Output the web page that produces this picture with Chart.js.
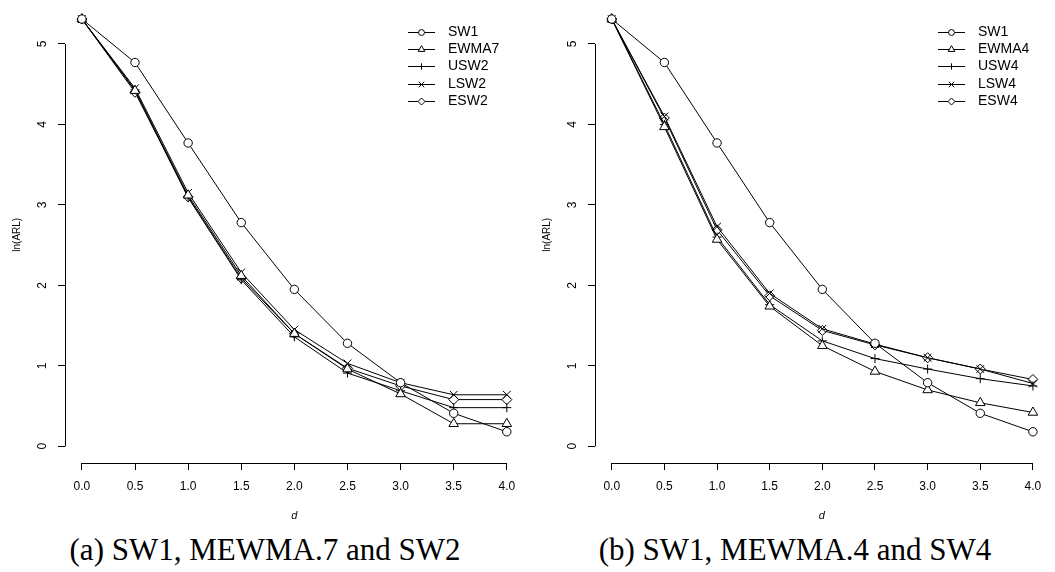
<!DOCTYPE html>
<html>
<head>
<meta charset="utf-8">
<script src="https://cdn.jsdelivr.net/npm/chart.js@4.4.1/dist/chart.umd.min.js"></script>
<style>
    html, body { margin: 0; padding: 0; background: #fff; }
    #wrap { position: relative; width: 1055px; height: 572px; overflow: hidden; }
    .panel { position: absolute; top: 0; }
    .caption {
        position: absolute; top: 534px; width: 530px; text-align: center;
        font-family: "Liberation Serif", "Times New Roman", serif;
        font-size: 31px; line-height: 31px; color: #000; white-space: nowrap;
    }
</style>
</head>
<body>
<div id="wrap">
    <canvas id="chartA" class="panel" style="left:0" width="530" height="530"></canvas>
    <canvas id="chartB" class="panel" style="left:530px" width="525" height="530"></canvas>
    <div class="caption" style="left:0">(a) SW1, MEWMA.7 and SW2</div>
    <div class="caption" style="left:530px">(b) SW1, MEWMA.4 and SW4</div>
</div>
<script>
// x values (shift size d) and axis ticks
const dValues = [0, 0.5, 1, 1.5, 2, 2.5, 3, 3.5, 4];
const xTickValues = [0, 0.5, 1, 1.5, 2, 2.5, 3, 3.5, 4];
const yTickValues = [0, 1, 2, 3, 4, 5];

// ln(ARL), shared reference curve
const sw1 = [5.31, 4.77, 3.77, 2.78, 1.95, 1.28, 0.79, 0.41, 0.18];

// panel (a)
const labelsA = ['SW1', 'EWMA7', 'USW2', 'LSW2', 'ESW2'];
const ewma7 = [5.31, 4.42, 3.12, 2.12, 1.40, 0.96, 0.65, 0.28, 0.28];
const usw2 = [5.31, 4.43, 3.09, 2.07, 1.36, 0.91, 0.69, 0.48, 0.48];
const lsw2 = [5.31, 4.45, 3.15, 2.16, 1.45, 1.03, 0.79, 0.64, 0.64];
const esw2 = [5.31, 4.40, 3.10, 2.09, 1.40, 0.97, 0.75, 0.58, 0.58];

// panel (b)
const labelsB = ['SW1', 'EWMA4', 'USW4', 'LSW4', 'ESW4'];
const ewma4 = [5.31, 3.97, 2.57, 1.74, 1.25, 0.93, 0.70, 0.54, 0.42];
const usw4 = [5.31, 4.00, 2.60, 1.76, 1.31, 1.09, 0.96, 0.84, 0.75];
const lsw4 = [5.31, 4.10, 2.73, 1.90, 1.46, 1.27, 1.10, 0.96, 0.78];
const esw4 = [5.31, 4.08, 2.69, 1.87, 1.44, 1.26, 1.10, 0.96, 0.83];

const markerStyles = ['circle', 'triangle', 'cross', 'crossRot', 'rectRot'];
const markerRadius = { circle: 4.2, triangle: 5.5, cross: 4.5, crossRot: 5.5, rectRot: 5 };

Chart.defaults.font.family = '"Liberation Sans", Arial, Helvetica, sans-serif';
Chart.defaults.color = '#000';

// R-style axes (line only from first to last tick), rotated y labels, legend
const rAxesPlugin = {
    id: 'rAxes',
    afterDraw(chart, args, opts) {
        const { ctx, chartArea, scales: { x, y } } = chart;
        ctx.save();
        ctx.strokeStyle = '#000';
        ctx.lineWidth = 1;
        ctx.beginPath();
        const xb = Math.round(chartArea.bottom) + 0.5;
        ctx.moveTo(x.getPixelForValue(xTickValues[0]), xb);
        ctx.lineTo(x.getPixelForValue(xTickValues[xTickValues.length - 1]), xb);
        const yl = Math.round(chartArea.left) + 0.5;
        ctx.moveTo(yl, y.getPixelForValue(yTickValues[0]));
        ctx.lineTo(yl, y.getPixelForValue(yTickValues[yTickValues.length - 1]));
        ctx.stroke();

        // y tick labels, read bottom to top like R
        ctx.fillStyle = '#000';
        ctx.font = '12px "Liberation Sans", Arial, sans-serif';
        ctx.textAlign = 'center';
        ctx.textBaseline = 'middle';
        yTickValues.forEach(v => {
            ctx.save();
            ctx.translate(chartArea.left - 22, y.getPixelForValue(v));
            ctx.rotate(-Math.PI / 2);
            ctx.fillText(String(v), 0, 0);
            ctx.restore();
        });

        // legend
        ctx.font = '14px "Liberation Sans", Arial, sans-serif';
        ctx.textAlign = 'left';
        chart.data.datasets.forEach((ds, i) => {
            const ly = Math.round(opts.top + i * opts.rowHeight) + 0.5;
            ctx.beginPath();
            ctx.moveTo(opts.lineStart, ly);
            ctx.lineTo(opts.lineEnd, ly);
            ctx.stroke();
            ctx.fillStyle = '#fff';
            Chart.helpers.drawPoint(ctx, {
                pointStyle: ds.pointStyle,
                radius: markerRadius[ds.pointStyle] * 0.7,
                rotation: 0,
                borderWidth: 1
            }, (opts.lineStart + opts.lineEnd) / 2, ly);
            ctx.fillStyle = '#000';
            ctx.fillText(ds.label, opts.textX, ly);
        });
        ctx.restore();
    }
};

function makeDataset(label, values, style) {
    return {
        label,
        data: dValues.map((d, i) => ({ x: d, y: values[i] })),
        borderColor: '#000',
        borderWidth: 1,
        pointStyle: style,
        pointRadius: markerRadius[style],
        pointBackgroundColor: '#fff',
        pointBorderColor: '#000',
        pointBorderWidth: 1,
        tension: 0,
        fill: false,
        clip: false
    };
}

function buildChart(canvasId, labels, series, xMax) {
    return new Chart(document.getElementById(canvasId), {
        type: 'line',
        data: {
            datasets: series.map((vals, i) => makeDataset(labels[i], vals, markerStyles[i]))
        },
        options: {
            responsive: false,
            animation: false,
            events: [],
            layout: { padding: { left: 0, right: canvasId === 'chartA' ? 4 : 0, top: 0, bottom: 0 } },
            plugins: {
                legend: { display: false },
                tooltip: { enabled: false },
                rAxes: { lineStart: 408, lineEnd: 435, textX: 448, top: 31.5, rowHeight: 17.4 }
            },
            scales: {
                x: {
                    type: 'linear',
                    min: -0.159,
                    max: xMax,
                    afterBuildTicks: s => { s.ticks = xTickValues.map(v => ({ value: v })); },
                    afterFit: s => { s.height = 67; s.paddingLeft = 0; s.paddingRight = 0; },
                    ticks: {
                        callback: v => v.toFixed(1),
                        font: { size: 12 },
                        color: '#000',
                        padding: 9,
                        maxRotation: 0,
                        autoSkip: false
                    },
                    grid: { drawOnChartArea: false, drawTicks: true, tickLength: 7, color: '#000', lineWidth: 1 },
                    border: { display: false },
                    title: {
                        display: true,
                        text: 'd',
                        font: { size: 11, style: 'italic' },
                        color: '#000',
                        padding: { top: 0, bottom: 7 }
                    }
                },
                y: {
                    type: 'linear',
                    min: -0.208,
                    max: 5.466,
                    afterBuildTicks: s => { s.ticks = yTickValues.map(v => ({ value: v })); },
                    afterFit: s => { s.width = 65; s.paddingTop = 0; s.paddingBottom = 0; },
                    ticks: { display: false },
                    grid: { drawOnChartArea: false, drawTicks: true, tickLength: 7, color: '#000', lineWidth: 1 },
                    border: { display: false },
                    title: {
                        display: true,
                        text: 'ln(ARL)',
                        font: { size: 10 },
                        color: '#000',
                        padding: { top: 11, bottom: 0 }
                    }
                }
            }
        },
        plugins: [rAxesPlugin]
    });
}

buildChart('chartA', labelsA, [sw1, ewma7, usw2, lsw2, esw2], 4.157);
buildChart('chartB', labelsB, [sw1, ewma4, usw4, lsw4, esw4], 4.148);
</script>
</body>
</html>
